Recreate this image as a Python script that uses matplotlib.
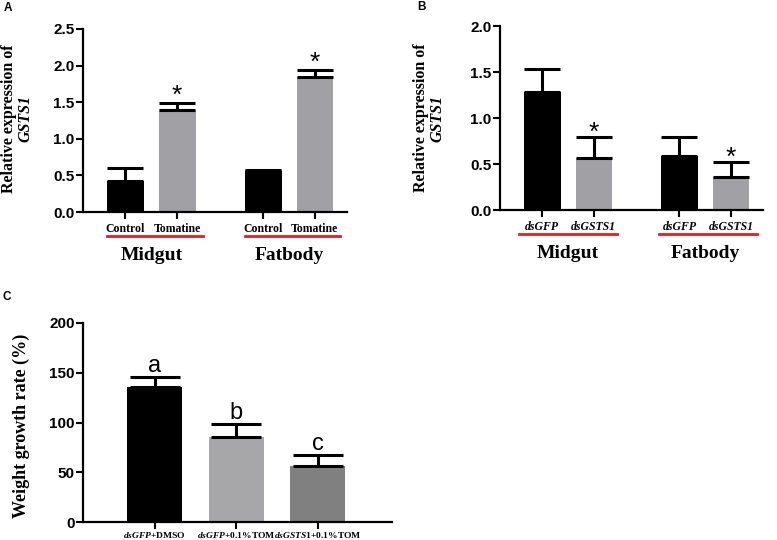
import numpy as np
import matplotlib
matplotlib.use('Agg')
import matplotlib.pyplot as plt
from matplotlib.transforms import blended_transform_factory

plt.rcParams['mathtext.fontset'] = 'custom'
plt.rcParams['mathtext.it'] = 'Liberation Serif:italic:bold'
plt.rcParams['mathtext.rm'] = 'Liberation Serif:bold'
plt.rcParams['mathtext.bf'] = 'Liberation Serif:bold'

SANS = 'Liberation Sans'
SERIF = 'Liberation Serif'
GRAY = '#a1a1a5'

# panel A: tomatine induction
a_labels = ['Control', 'Tomatine', 'Control', 'Tomatine']
a_groups = ['Midgut', 'Fatbody']
a_mean = [0.43, 1.395, 0.555, 1.84]
a_err = [0.165, 0.09, 0.015, 0.10]
a_sig = ['', '*', '', '*']

# panel B: RNAi
b_labels = ['dsGFP', 'dsGSTS1', 'dsGFP', 'dsGSTS1']
b_groups = ['Midgut', 'Fatbody']
b_mean = [1.28, 0.57, 0.585, 0.355]
b_err = [0.255, 0.22, 0.205, 0.17]
b_sig = ['', '*', '', '*']

# panel C: weight growth
c_labels = ['$dsGFP$+DMSO', '$dsGFP$+0.1%TOM', '$\\mathit{dsGSTS1}$+0.1%TOM']
c_mean = [136, 85, 56.5]
c_err = [9.5, 13.5, 10.5]
c_sig = ['a', 'b', 'c']
c_colors = ['black', '#a7a7aa', '#808080']

W, H = 777, 540
fig = plt.figure(figsize=(W / 100, H / 100), dpi=100)


def px_axes(x0, y0, x1, y1):
    # pixel box -> figure axes
    return fig.add_axes([x0 / W, 1 - y1 / H, (x1 - x0) / W, (y1 - y0) / H])


def style_axes(ax, ylim, yticks, fmt):
    for s in ['top', 'right']:
        ax.spines[s].set_visible(False)
    for s in ['left', 'bottom']:
        ax.spines[s].set_linewidth(1.6)
    ax.tick_params(axis='both', direction='out', length=5, width=1.5, pad=1)
    ax.tick_params(axis='x', pad=3)
    ax.set_ylim(*ylim)
    ax.set_yticks(yticks)
    ax.set_yticklabels([fmt.format(v) for v in yticks])
    for lbl in ax.get_yticklabels():
        lbl.set_fontfamily(SANS)
        lbl.set_fontweight('bold')
        lbl.set_fontsize(11)


def expr_panel(ax, labels, groups, mean, err, sig, ylim, yticks, italic,
               lines, sig_off):
    x = np.array([0, 1, 2.66, 3.66])
    ax.bar(x, mean, width=0.71, color=['black', GRAY, 'black', GRAY])
    ax.errorbar(x, mean, yerr=[np.zeros(4), err], fmt='none', ecolor='black',
                elinewidth=2.2, capsize=13, capthick=2.2)
    ax.set_xlim(-0.82, 4.28)
    style_axes(ax, ylim, yticks, '{:.1f}')
    ax.set_xticks(x)
    ax.set_xticklabels(labels, family=SERIF, weight='bold', size=8.5,
                       style='italic' if italic else 'normal')
    tr = blended_transform_factory(ax.transData, ax.transAxes)
    for (l0, l1), yl, g in zip(lines, [x[:2].mean(), x[2:].mean()], groups):
        ax.plot([l0, l1], [-0.13, -0.13], color='#e31e24', lw=2,
                transform=tr, clip_on=False)
        ax.text(yl, -0.235, g, transform=tr, ha='center', va='center',
                family=SERIF, weight='bold', size=14)
    for xi, m, e, s in zip(x, mean, err, sig):
        if s:
            ax.text(xi, m + e + sig_off, s, ha='center', va='center',
                    family=SANS, size=19)


axA = px_axes(83, 29, 347, 212)
expr_panel(axA, a_labels, a_groups, a_mean, a_err, a_sig, (0, 2.5),
           [0, 0.5, 1.0, 1.5, 2.0, 2.5], False,
           [(-0.35, 1.5), (2.3, 4.15)], 0.1)

axB = px_axes(500, 26, 763, 210)
expr_panel(axB, b_labels, b_groups, b_mean, b_err, b_sig, (0, 2.0),
           [0, 0.5, 1.0, 1.5, 2.0], True,
           [(-0.45, 1.44), (2.27, 4.16)], 0.045)

axC = px_axes(83, 323, 392, 522)
xc = np.arange(len(c_mean))
axC.bar(xc, c_mean, width=0.675, color=c_colors)
axC.errorbar(xc, c_mean, yerr=[np.zeros(3), c_err], fmt='none', ecolor='black',
             elinewidth=2.2, capsize=18, capthick=2.2)
axC.set_xlim(-0.88, 2.91)
style_axes(axC, (0, 200), [0, 50, 100, 150, 200], '{:.0f}')
axC.tick_params(axis='x', pad=0.5)
axC.set_xticks(xc)
axC.set_xticklabels(c_labels, family=SERIF, weight='bold', size=6.8)
for xi, m, e, s in zip(xc, c_mean, c_err, c_sig):
    axC.text(xi, m + e + 11.5, s, ha='center', va='center', family=SANS,
             size=17)

# y labels
for xp, yp, txt, st in [(9, 119, 'Relative expression of', 'normal'),
                        (25, 119, 'GSTS1', 'italic'),
                        (421, 118, 'Relative expression of', 'normal'),
                        (437, 118, 'GSTS1', 'italic')]:
    fig.text(xp / W, 1 - yp / H, txt, rotation=90, ha='center', va='center',
             family=SERIF, weight='bold', style=st, size=11.5)
fig.text(21 / W, 1 - 426 / H, 'Weight growth rate (%)', rotation=90,
         ha='center', va='center', family=SERIF, weight='bold', size=13)

# panel letters
for xp, yp, t in [(8, 8, 'A'), (422, 7, 'B'), (7, 297, 'C')]:
    fig.text(xp / W, 1 - yp / H, t, ha='center', va='center', family=SANS,
             weight='bold', size=8.5)

fig.savefig('out.png', dpi=100)
